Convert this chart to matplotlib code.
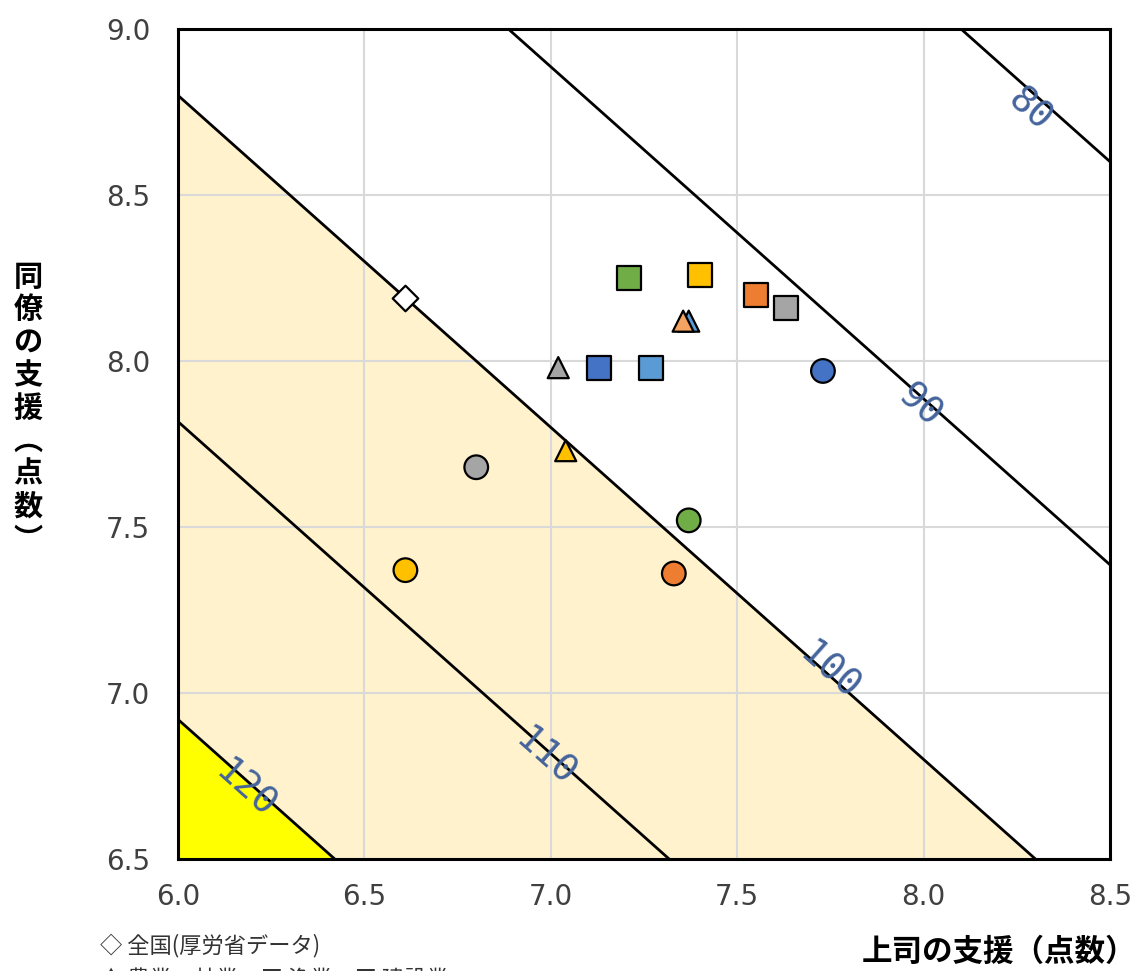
import numpy as np
import matplotlib
matplotlib.use('Agg')
from matplotlib import pyplot as plt

# --- data ---
# circles
circle_x = [7.73, 6.80, 7.37, 7.33, 6.61]
circle_y = [7.97, 7.68, 7.52, 7.36, 7.37]
circle_c = ['#4472C4', '#A5A5A5', '#70AD47', '#ED7D31', '#FFC000']
# squares
square_x = [7.21, 7.40, 7.55, 7.63, 7.13, 7.27]
square_y = [8.25, 8.26, 8.20, 8.16, 7.98, 7.98]
square_c = ['#70AD47', '#FFC000', '#ED7D31', '#A5A5A5', '#4472C4', '#5B9BD5']
# triangles
tri_x = [7.02, 7.04, 7.37, 7.355]
tri_y = [7.98, 7.73, 8.12, 8.12]
tri_c = ['#A5A5A5', '#FFC000', '#5B9BD5', '#F4A460']
# national average (hollow diamond)
nat_x = [6.61]
nat_y = [8.19]

levels = [80, 90, 100, 110, 120]
label_x = [8.285, 7.99, 7.745, 6.985, 6.18]
label_y = [8.755, 7.865, 7.065, 6.805, 6.71]

xticks = [6.0, 6.5, 7.0, 7.5, 8.0, 8.5]
yticks = [6.5, 7.0, 7.5, 8.0, 8.5, 9.0]

cjk = ['Noto Sans CJK JP', 'DejaVu Sans']

# workplace support health risk: 100*exp(-0.097*(boss+coworker-14.8))
k = 0.097
base = 14.8
def risk(x, y):
    return 100 * np.exp(-k * (x + y - base))

fig = plt.figure(figsize=(11.38, 9.71), dpi=100)
ax = fig.add_axes([178/1138, 1-859/971, (1110-178)/1138, (859-29)/971])

gx, gy = np.meshgrid(np.linspace(6.0, 8.5, 400), np.linspace(6.5, 9.0, 400))
gz = risk(gx, gy)
ax.contourf(gx, gy, gz, levels=[100, 120, 1000], colors=['#FFF2CC', '#FFFF00'], zorder=0)
ax.grid(True, color='#D9D9D9', lw=1.5, zorder=1)
ax.set_axisbelow(True)
ax.contour(gx, gy, gz, levels=levels, colors='black', linewidths=2.0, zorder=2)

# contour labels sitting on the lines
for lv, lx, ly in zip(levels, label_x, label_y):
    ax.text(lx, ly, str(lv), rotation=-41.7, rotation_mode='anchor',
            ha='center', va='center', fontsize=27, color='#44649C',
            family='DejaVu Sans Mono', zorder=3)

ax.scatter(circle_x, circle_y, s=290, marker='o', c=circle_c, edgecolors='black', linewidths=1.6, zorder=5)
ax.scatter(square_x, square_y, s=300, marker='s', c=square_c, edgecolors='black', linewidths=1.6, zorder=5)
ax.scatter(tri_x, tri_y, s=230, marker='^', c=tri_c, edgecolors='black', linewidths=1.6, zorder=5)
ax.scatter(nat_x, nat_y, s=170, marker='D', c='white', edgecolors='black', linewidths=1.6, zorder=5)

ax.set_xlim(6.0, 8.5)
ax.set_ylim(6.5, 9.0)
ax.set_xticks(xticks)
ax.set_yticks(yticks)
ax.set_xticklabels([f'{t:.1f}' for t in xticks])
ax.set_yticklabels([f'{t:.1f}' for t in yticks])
ax.tick_params(length=0, labelsize=20, colors='#404040')
ax.tick_params(axis='x', pad=17)
ax.tick_params(axis='y', pad=20)
for s in ax.spines.values():
    s.set_linewidth(2.2)
    s.set_color('black')
    s.set_zorder(6)

# vertical y label
ylab = '同\n僚\nの\n支\n援\n︵\n点\n数\n︶'
fig.text(28/1138, 1-408/971, ylab, ha='center', va='center', fontsize=21,
         fontweight='bold', family=cjk, linespacing=1.12)
fig.text(1136/1138, 1-952/971, '上司の支援（点数）', ha='right', va='center',
         fontsize=22, fontweight='bold', family=cjk)

# legend-like notes at the bottom (second line is cut by the figure edge)
fig.text(100/1138, 1-945/971, '◇ 全国(厚労省データ)', ha='left', va='center',
         fontsize=16, family=cjk, color='#333333')
fig.text(100/1138, 1-980/971, '▲ 農業・林業　■ 漁業　■ 建設業', ha='left', va='center',
         fontsize=16, family=cjk, color='#333333')

fig.savefig('out.png', dpi=100)
